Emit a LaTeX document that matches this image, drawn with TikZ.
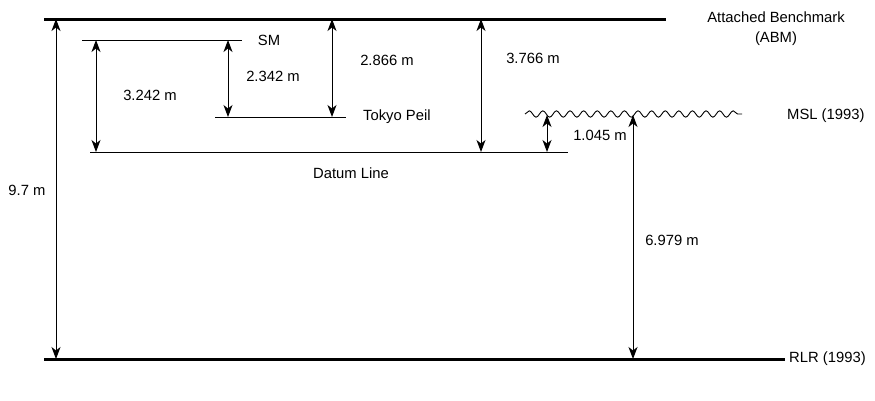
\documentclass[tikz,border=0pt]{standalone}
\usepackage{fontspec}
\setmainfont{Liberation Sans}
\usetikzlibrary{arrows.meta,decorations.pathmorphing}
\begin{document}
\begin{tikzpicture}[x=1pt,y=-1pt,
  lbl/.style={inner sep=0pt,font=\fontsize{14.8}{17}\selectfont},
  refline/.style={line width=3pt},
  levline/.style={line width=1pt},
  dim/.style={line width=1pt,{Stealth[length=12pt,width=9pt,inset=3.5pt]}-{Stealth[length=12pt,width=9pt,inset=3.5pt]}},
  wavy/.style={line width=0.9pt,decorate,decoration={snake,segment length=13.6pt,amplitude=3.2pt}}]
\useasboundingbox (0,0) rectangle (875,400);
% reference levels
\coordinate (abmL) at (44,19);  \coordinate (abmR) at (666,19);
\coordinate (rlrL) at (44,359); \coordinate (rlrR) at (785,359);
\coordinate (smL) at (82,40);   \coordinate (smR) at (242,40);
\coordinate (tpL) at (215,117); \coordinate (tpR) at (346,117);
\coordinate (dlL) at (90,152);  \coordinate (dlR) at (568,152);
\coordinate (mslL) at (525,114); \coordinate (mslR) at (742,114);
\draw[refline] (abmL) -- (abmR);
\draw[refline] (rlrL) -- (rlrR);
\draw[levline] (smL) -- (smR);
\draw[levline] (tpL) -- (tpR);
\draw[levline] (dlL) -- (dlR);
\draw[wavy] (mslL) -- (mslR);
% labels
\node[lbl,align=center] (abm) at (776,29) {Attached Benchmark\\[3pt](ABM)};
\node[lbl,anchor=west] (rlr) at (789,359) {RLR (1993)};
\node[lbl] (sm) at (269,40) {SM};
\node[lbl,anchor=west] (tp) at (363,117) {Tokyo Peil};
\node[lbl] (dl) at (351,173) {Datum Line};
\node[lbl,anchor=west] (msl) at (787,116) {MSL (1993)};
% dimension endpoints
\coordinate (a1) at (56,19);  \coordinate (b1) at (56,359);
\coordinate (a2) at (96,40);  \coordinate (b2) at (96,152);
\coordinate (a3) at (228,40); \coordinate (b3) at (228,117);
\coordinate (a4) at (332,19); \coordinate (b4) at (332,117);
\coordinate (a5) at (481,19); \coordinate (b5) at (481,152);
\coordinate (a6) at (547,115); \coordinate (b6) at (547,152);
\coordinate (a7) at (633,115); \coordinate (b7) at (633,359);
\draw[dim] (a1) -- (b1);
\draw[dim] (a2) -- (b2);
\draw[dim] (a3) -- (b3);
\draw[dim] (a4) -- (b4);
\draw[dim] (a5) -- (b5);
\draw[dim] (a6) -- (b6);
\draw[dim] (a7) -- (b7);
% dimension labels
\node[lbl] (d1) at (27,190) {9.7 m};
\node[lbl] (d2) at (150,95) {3.242 m};
\node[lbl] (d3) at (273,76) {2.342 m};
\node[lbl] (d4) at (387,60) {2.866 m};
\node[lbl] (d5) at (533,58) {3.766 m};
\node[lbl] (d6) at (600,135) {1.045 m};
\node[lbl] (d7) at (672,240) {6.979 m};
\end{tikzpicture}
\end{document}
